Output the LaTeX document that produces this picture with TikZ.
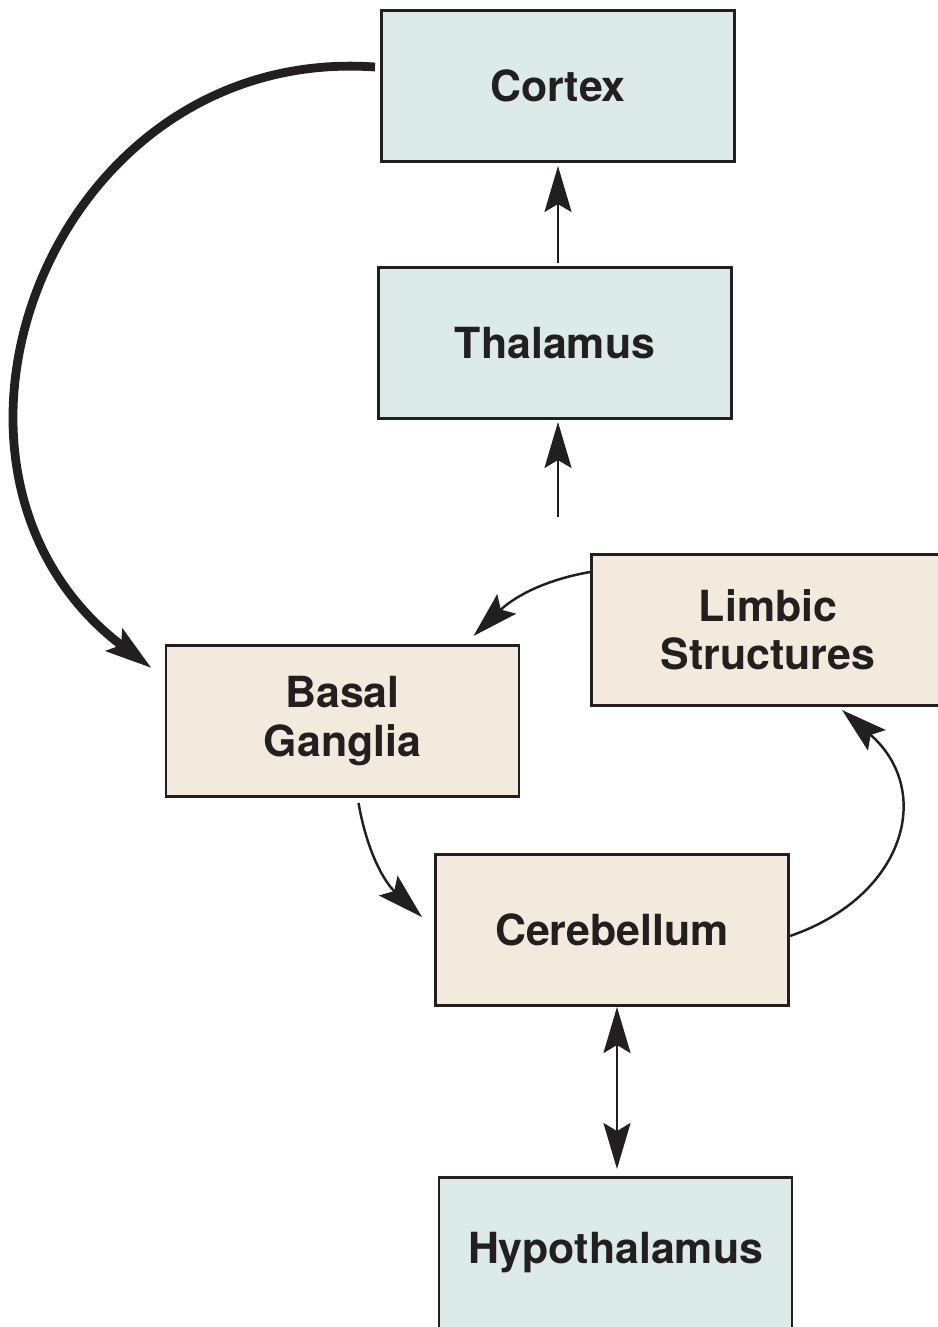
\documentclass[tikz,border=0pt]{standalone}
\usepackage{fontspec}
\setmainfont{TeX Gyre Heros}
\usetikzlibrary{arrows.meta}

\definecolor{boxblue}{RGB}{220,234,232}
\definecolor{boxtan}{RGB}{242,234,220}
\definecolor{ink}{RGB}{35,31,32}

\begin{document}
\begin{tikzpicture}[
    >={Stealth[length=0.46cm, width=0.27cm, inset=0.08cm]},
    box/.style={draw=ink, line width=0.85pt, minimum width=3.53cm, minimum height=1.51cm,
        align=center, text=ink, font=\fontsize{12.2}{13.8}\selectfont\bfseries},
    bluebox/.style={box, fill=boxblue},
    tanbox/.style={box, fill=boxtan},
    link/.style={->, draw=ink, line width=0.7pt},
]
    \useasboundingbox (0,0) rectangle (9.37,-13.27);

    % Boxes
    \node[bluebox] (cortex) at (5.58,-0.86) {Cortex};
    \node[bluebox] (thal) at (5.55,-3.43) {Thalamus};
    \node[tanbox] (limbic) at (7.68,-6.30) {Limbic\\Structures};
    \node[tanbox] (basal) at (3.425,-7.21) {Basal\\Ganglia};
    \node[tanbox] (cereb) at (6.12,-9.30) {Cerebellum};
    \node[bluebox] (hypo) at (6.155,-12.53) {Hypothalamus};

    % Ascending path
    \coordinate (thalin) at (5.58,-5.17);
    \draw[link, shorten >=0.02cm] (thalin) -- (thalin |- thal.south);
    \draw[link, shorten <=0.03cm, shorten >=0.03cm] (thal.north -| cortex.south) -- (cortex.south);

    % Cortex back to basal ganglia
    \coordinate (ctxout) at ([xshift=-0.05cm, yshift=0.19cm]cortex.west);
    \coordinate (bgin) at ([xshift=-0.13cm, yshift=-0.24cm]basal.north west);
    \draw[link, line width=2.5pt] (ctxout) to[out=176, in=143, looseness=1.3] (bgin);

    % Loop between basal ganglia, cerebellum and limbic structures
    \draw[link] ([yshift=0.58cm]limbic.west) to[out=190, in=44]
        ([xshift=-0.47cm, yshift=0.08cm]basal.north east);
    \draw[link] ([xshift=0.16cm, yshift=-0.05cm]basal.south) to[out=280, in=137]
        ([xshift=-0.12cm, yshift=0.13cm]cereb.west);
    \draw[link] ([yshift=-0.06cm]cereb.east) to[out=19, in=-41, looseness=1.35]
        ([xshift=0.74cm, yshift=-0.03cm]limbic.south);

    % Cerebellum <-> hypothalamus
    \draw[link, <->, shorten >=0.07cm] ([xshift=0.05cm]cereb.south) -- ([xshift=0.015cm]hypo.north);
\end{tikzpicture}
\end{document}
